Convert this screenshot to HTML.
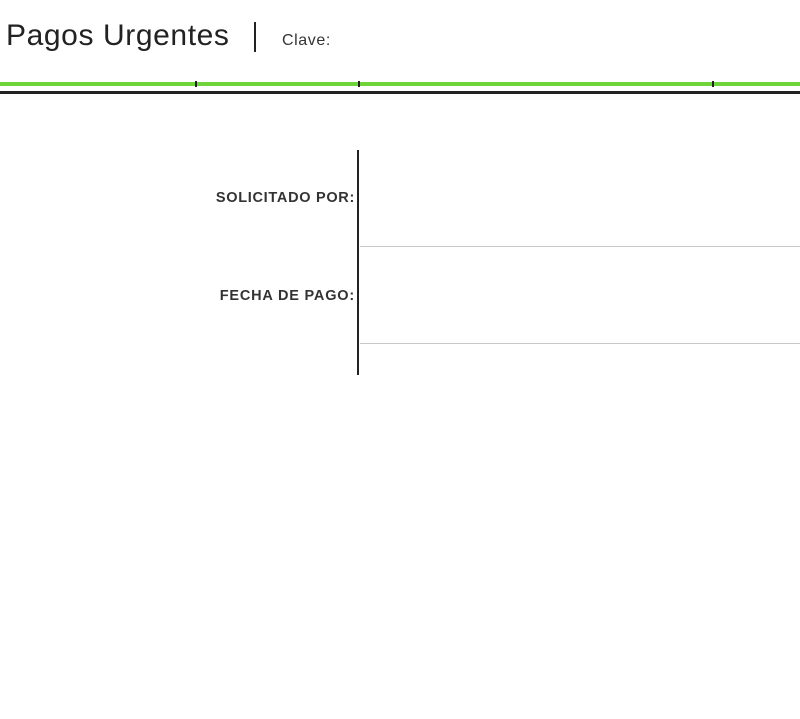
<!DOCTYPE html>
<html><head><meta charset="utf-8"><style>
html,body{margin:0;padding:0;background:#fff;}
body{width:800px;height:719px;position:relative;overflow:hidden;font-family:"Liberation Sans",sans-serif;}
.a{position:absolute;}
</style></head><body>
<div class="a" style="left:6px;top:19px;font-size:30px;color:#222;letter-spacing:0.6px;">Pagos Urgentes</div>
<div class="a" style="left:254px;top:22px;width:2px;height:30px;background:#222;"></div>
<div class="a" style="left:282px;top:32px;font-size:16px;color:#333;letter-spacing:0.6px;">Clave:</div>
<div class="a" style="left:0;top:82px;width:800px;height:4px;background:#6fd43a;"></div>
<div class="a" style="left:195px;top:81px;width:2px;height:6px;background:#222;"></div>
<div class="a" style="left:358px;top:81px;width:2px;height:6px;background:#222;"></div>
<div class="a" style="left:712px;top:81px;width:2px;height:6px;background:#222;"></div>
<div class="a" style="left:0;top:91px;width:800px;height:3px;background:#222;"></div>
<div class="a" style="left:357px;top:150px;width:2px;height:225px;background:#222;"></div>
<div class="a" style="left:360px;top:246px;width:440px;height:1px;background:#c8c8c8;"></div>
<div class="a" style="left:360px;top:343px;width:440px;height:1px;background:#c8c8c8;"></div>
<div class="a" style="right:445px;top:190px;font-size:14.5px;font-weight:bold;color:#333;letter-spacing:0.7px;">SOLICITADO POR:</div>
<div class="a" style="right:445px;top:288px;font-size:14.5px;font-weight:bold;color:#333;letter-spacing:0.8px;">FECHA DE PAGO:</div>
</body></html>
